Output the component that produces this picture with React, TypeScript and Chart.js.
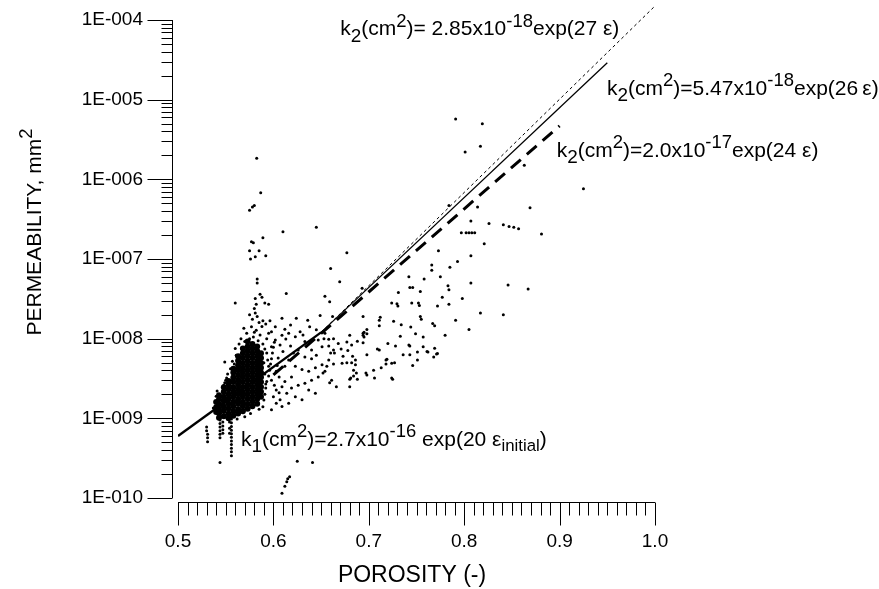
import React, { useEffect, useRef } from "react";
import { Chart, registerables } from "chart.js";

Chart.register(...registerables);

const FONT = "'Liberation Sans', Arial, Helvetica, sans-serif";

// ---------- axis ticks / labels ----------
const xTickValues = [0.5, 0.6, 0.7, 0.8, 0.9, 1.0];
const xTickLabels = ["0.5", "0.6", "0.7", "0.8", "0.9", "1.0"];
const yTickValues = [1e-10, 1e-9, 1e-8, 1e-7, 1e-6, 1e-5, 1e-4];
const yTickLabels = ["1E-010", "1E-009", "1E-008", "1E-007", "1E-006", "1E-005", "1E-004"];
const xAxisTitle = "POROSITY (-)";
const yAxisTitleParts: [string, string][] = [["PERMEABILITY, mm", "n"], ["2", "sup"]];

// ---------- fitted lines ----------
const k1Line: [number, number][] = [[0.5, 6.0e-10], [0.65, 1.2e-8]];
const k2SolidLine: [number, number][] = [[0.65, 1.2e-8], [0.95, 2.9e-5]];
const k2DottedLine: [number, number][] = [[0.65, 1.2e-8], [1.0, 1.5e-4]];
const k2DashedLine: [number, number][] = [[0.6, 3.5e-9], [0.9, 4.7e-6]];

// ---------- dense core of measurements ----------
const denseCore: [number, number[]][] = [
  [0.540, [1.2e-9, 1.38e-9, 1.6e-9]],
  [0.543, [1.02e-9, 1.16e-9, 1.31e-9, 1.5e-9, 1.74e-9, 1.95e-9]],
  [0.548, [1.06e-9, 1.24e-9, 1.41e-9, 1.64e-9, 1.86e-9, 2.15e-9, 2.45e-9]],
  [0.553, [1.0e-9, 1.14e-9, 1.33e-9, 1.52e-9, 1.76e-9, 2.0e-9, 2.31e-9, 2.64e-9, 2.95e-9]],
  [0.558, [1.08e-9, 1.23e-9, 1.42e-9, 1.62e-9, 1.88e-9, 2.15e-9, 2.46e-9, 2.86e-9, 3.26e-9, 3.76e-9, 4.2e-9]],
  [0.563, [1.15e-9, 1.31e-9, 1.53e-9, 1.74e-9, 2.0e-9, 2.3e-9, 2.66e-9, 3.04e-9, 3.5e-9, 4.02e-9, 4.6e-9, 5.3e-9, 6.0e-9]],
  [0.568, [1.23e-9, 1.42e-9, 1.62e-9, 1.88e-9, 2.14e-9, 2.47e-9, 2.86e-9, 3.27e-9, 3.76e-9, 4.3e-9, 4.94e-9, 5.7e-9, 6.55e-9, 7.5e-9]],
  [0.573, [1.32e-9, 1.51e-9, 1.75e-9, 2.01e-9, 2.3e-9, 2.64e-9, 3.05e-9, 3.5e-9, 4.01e-9, 4.6e-9, 5.3e-9, 6.1e-9, 7.0e-9, 8.0e-9, 9.2e-9]],
  [0.578, [1.42e-9, 1.63e-9, 1.87e-9, 2.15e-9, 2.47e-9, 2.85e-9, 3.27e-9, 3.75e-9, 4.3e-9, 4.95e-9, 5.7e-9, 6.55e-9, 7.5e-9, 8.6e-9]],
  [0.583, [1.52e-9, 1.75e-9, 2.0e-9, 2.3e-9, 2.65e-9, 3.05e-9, 3.5e-9, 4.0e-9, 4.6e-9, 5.3e-9, 6.1e-9, 7.0e-9, 8.0e-9]],
  [0.587, [1.87e-9, 2.15e-9, 2.47e-9, 2.85e-9, 3.27e-9, 3.75e-9, 4.3e-9, 4.95e-9, 5.7e-9, 6.55e-9]],
];

// ---------- points around the core ----------
const coreEdge: [number, number][] = [
  [0.539, 1.6e-9], [0.540, 1.9e-9], [0.541, 2.2e-9], [0.537, 1.35e-9], [0.548, 2.6e-9], [0.549, 2.8e-9],
  [0.550, 3.0e-9], [0.551, 3.2e-9], [0.549, 5.1e-9], [0.557, 5.2e-9], [0.552, 3.6e-9], [0.555, 4.2e-9],
  [0.559, 4.8e-9], [0.561, 6.2e-9], [0.560, 7.5e-9], [0.564, 8.6e-9], [0.566, 1.0e-8],
  [0.575, 2.0e-8], [0.581, 2.1e-8], [0.583, 1.9e-8], [0.589, 1.68e-8], [0.592, 1.53e-8], [0.577, 1.41e-8],
  [0.582, 1.28e-8], [0.572, 1.17e-8], [0.586, 1.11e-8], [0.575, 1.0e-8], [0.593, 1.0e-8], [0.570, 9.2e-9],
  [0.598, 1.22e-8], [0.579, 1.05e-8], [0.569, 1.35e-8], [0.588, 1.42e-8], [0.585, 1.6e-8], [0.578, 1.75e-8],
  [0.589, 1.4e-9], [0.590, 1.7e-9], [0.591, 2.0e-9], [0.592, 2.4e-9], [0.593, 2.9e-9], [0.595, 3.4e-9],
  [0.596, 4.0e-9], [0.597, 4.8e-9], [0.598, 5.6e-9], [0.599, 6.6e-9], [0.600, 7.8e-9], [0.601, 9.0e-9],
  [0.591, 3.6e-9], [0.590, 5.0e-9], [0.591, 7.4e-9], [0.589, 8.6e-9], [0.592, 2.7e-9], [0.594, 5.4e-9],
  [0.584, 9.4e-9], [0.580, 1.2e-8], [0.585, 1.3e-9], [0.576, 1.15e-9], [0.570, 1.05e-9], [0.562, 9.8e-10],
];

const nearCore: [number, number][] = [
  [0.5964, 1.68e-8], [0.602, 1.41e-8], [0.609, 1.8e-8], [0.612, 1.31e-8], [0.616, 1.17e-8], [0.618, 1.48e-8],
  [0.623, 1.06e-8], [0.628, 1.22e-8], [0.631, 1.11e-8], [0.633, 9.2e-9], [0.638, 1.41e-8], [0.640, 7.2e-9],
  [0.645, 1.29e-8], [0.647, 9.6e-9], [0.651, 7.9e-9], [0.654, 1.17e-8], [0.658, 9.8e-9], [0.663, 7.2e-9],
  [0.658, 5.4e-9], [0.651, 4.7e-9], [0.644, 4.3e-9], [0.637, 3.9e-9], [0.630, 4.1e-9], [0.623, 4.5e-9],
  [0.619, 3.3e-9], [0.612, 2.9e-9], [0.609, 2.5e-9], [0.603, 2.27e-9], [0.600, 1.87e-9], [0.607, 1.71e-9],
  [0.614, 2.06e-9], [0.619, 2.4e-9], [0.626, 2.6e-9], [0.633, 2.75e-9], [0.640, 3.0e-9], [0.647, 3.3e-9],
  [0.654, 3.9e-9], [0.661, 3.0e-9], [0.630, 1.71e-9], [0.623, 1.87e-9], [0.616, 1.55e-9], [0.609, 1.41e-9],
  [0.598, 3.0e-9], [0.595, 4.5e-9], [0.593, 6.6e-9], [0.598, 7.9e-9], [0.602, 9.6e-9], [0.595, 1.17e-8],
  [0.605, 5.7e-9], [0.610, 6.9e-9], [0.612, 4.5e-9], [0.603, 3.9e-9], [0.616, 5.4e-9], [0.621, 6.6e-9],
  [0.626, 7.2e-9], [0.633, 5.9e-9], [0.640, 5.6e-9], [0.645, 6.2e-9], [0.637, 2.27e-9], [0.644, 2.06e-9],
  [0.598, 1.28e-9], [0.603, 1.55e-9], [0.606, 3.3e-9], [0.604, 4.6e-9], [0.607, 8.3e-9], [0.613, 9.9e-9],
  [0.618, 8.1e-9], [0.609, 1.1e-8], [0.601, 2.6e-9], [0.606, 2.1e-9],
];

const lowTail: [number, number][] = [
  [0.544, 9.5e-10], [0.544, 8.6e-10], [0.544, 7.8e-10], [0.544, 7.0e-10], [0.544, 6.3e-10], [0.544, 5.7e-10],
  [0.547, 9.0e-10], [0.547, 8.0e-10], [0.547, 7.2e-10], [0.547, 6.5e-10],
  [0.556, 9.8e-10], [0.556, 8.8e-10], [0.556, 7.9e-10], [0.556, 7.1e-10], [0.556, 6.4e-10], [0.556, 5.8e-10],
  [0.556, 5.2e-10], [0.556, 4.7e-10], [0.556, 4.2e-10], [0.556, 3.8e-10], [0.556, 3.4e-10],
  [0.554, 9.0e-10], [0.554, 7.5e-10], [0.554, 6.5e-10],
  [0.530, 7.8e-10], [0.530, 7.0e-10], [0.531, 6.3e-10], [0.531, 5.7e-10], [0.531, 5.1e-10],
  [0.544, 2.8e-10], [0.625, 2.9e-10], [0.641, 2.8e-10],
  [0.609, 1.15e-10], [0.612, 1.4e-10], [0.614, 1.6e-10], [0.615, 1.75e-10], [0.617, 1.85e-10],
];

const upperScatter: [number, number][] = [
  [0.5825, 1.84e-6], [0.5867, 6.8e-7], [0.580, 4.7e-7], [0.578, 4.5e-7], [0.575, 4.1e-7], [0.610, 2.2e-7],
  [0.645, 2.5e-7], [0.589, 1.85e-7], [0.577, 1.65e-7], [0.579, 1.6e-7], [0.575, 1.27e-7], [0.585, 1.27e-7],
  [0.581, 1.07e-7], [0.592, 1.1e-7], [0.576, 1.0e-7], [0.583, 5.6e-8], [0.583, 5.0e-8], [0.6135, 3.7e-8],
  [0.560, 2.8e-8], [0.586, 3.6e-8], [0.581, 3.2e-8], [0.588, 3.3e-8], [0.582, 2.7e-8], [0.591, 2.8e-8],
  [0.595, 2.7e-8], [0.580, 2.4e-8], [0.677, 1.2e-7], [0.660, 7.6e-8], [0.6695, 5.2e-8], [0.654, 3.4e-8],
  [0.659, 2.9e-8], [0.649, 1.95e-8], [0.662, 1.9e-8], [0.636, 1.7e-8], [0.624, 1.8e-8], [0.694, 1.9e-8],
  [0.693, 4.3e-8],
];

const rightScatter: [number, number][] = [
  [0.791, 5.7e-6], [0.819, 5.0e-6], [0.801, 2.2e-6], [0.817, 2.6e-6], [0.863, 1.5e-6], [0.814, 4.5e-7],
  [0.784, 4.7e-7], [0.807, 3.0e-7], [0.826, 2.8e-7], [0.841, 2.7e-7], [0.847, 2.55e-7], [0.852, 2.5e-7],
  [0.857, 2.4e-7], [0.869, 4.4e-7], [0.881, 2.06e-7], [0.925, 7.6e-7], [0.797, 2.14e-7], [0.802, 2.14e-7],
  [0.805, 2.14e-7], [0.808, 2.14e-7], [0.811, 2.14e-7], [0.773, 1.27e-7], [0.821, 1.55e-7], [0.807, 1.1e-7],
  [0.793, 9.3e-8], [0.785, 7.9e-8], [0.766, 8.4e-8], [0.766, 7.2e-8], [0.775, 6.0e-8], [0.758, 5.6e-8],
  [0.742, 6.0e-8], [0.807, 5.0e-8], [0.846, 4.7e-8], [0.867, 4.2e-8], [0.743, 4.4e-8], [0.746, 4.4e-8],
  [0.783, 4.6e-8], [0.784, 4.1e-8], [0.731, 3.8e-8], [0.754, 3.9e-8], [0.798, 3.2e-8], [0.777, 3.3e-8],
  [0.724, 2.8e-8], [0.7295, 2.75e-8], [0.7305, 2.57e-8], [0.745, 2.8e-8], [0.752, 2.8e-8], [0.753, 2.6e-8],
  [0.772, 2.57e-8], [0.784, 2.7e-8], [0.817, 2.1e-8], [0.841, 2.0e-8],
];

const midScatter: [number, number][] = [
  [0.712, 1.86e-8], [0.711, 1.7e-8], [0.711, 1.45e-8], [0.726, 1.66e-8], [0.734, 1.5e-8], [0.754, 1.9e-8],
  [0.755, 1.75e-8], [0.767, 1.55e-8], [0.769, 1.45e-8], [0.791, 1.7e-8], [0.805, 1.3e-8], [0.780, 1.1e-8],
  [0.698, 1.3e-8], [0.698, 1.15e-8], [0.694, 1.17e-8], [0.695, 1.05e-8], [0.694, 8.9e-9], [0.680, 1.1e-8],
  [0.733, 1.07e-8], [0.743, 8.1e-9], [0.757, 7.9e-9], [0.751, 6.8e-9], [0.762, 6.8e-9], [0.771, 6.4e-9],
  [0.769, 7.6e-9], [0.768, 5.9e-9], [0.720, 8.7e-9], [0.728, 8.1e-9], [0.709, 7.4e-9], [0.736, 6.3e-9],
  [0.743, 6.3e-9], [0.718, 5.4e-9], [0.724, 4.9e-9], [0.746, 4.6e-9], [0.698, 6.3e-9], [0.705, 4.0e-9],
  [0.713, 4.3e-9], [0.686, 5.4e-9], [0.686, 4.7e-9], [0.682, 5.0e-9], [0.724, 3.2e-9], [0.698, 3.5e-9],
  [0.706, 3.2e-9], [0.680, 3.1e-9], [0.659, 2.8e-9], [0.666, 2.5e-9], [0.680, 2.5e-9], [0.681, 3.2e-9],
  [0.688, 3.1e-9], [0.684, 3.4e-9], [0.687, 3.7e-9], [0.697, 3.7e-9], [0.718, 4.8e-9], [0.725, 3.1e-9],
  [0.751, 5.4e-9], [0.727, 5.0e-9], [0.719, 5.5e-9], [0.772, 6.5e-9], [0.742, 8.3e-9], [0.761, 6.9e-9],
  [0.757, 1.05e-8], [0.749, 1.15e-8], [0.744, 1.4e-8], [0.711, 7.2e-9], [0.653, 1.0e-8], [0.658, 8.1e-9],
  [0.663, 1.0e-8], [0.668, 8.7e-9], [0.664, 6.6e-9], [0.660, 6.6e-9], [0.671, 7.4e-9], [0.673, 6.0e-9],
  [0.677, 9.1e-9], [0.682, 8.3e-9], [0.678, 7.1e-9], [0.683, 6.0e-9], [0.677, 5.0e-9], [0.672, 4.9e-9],
  [0.663, 4.8e-9], [0.656, 4.5e-9], [0.652, 3.7e-9], [0.684, 4.0e-9], [0.688, 9.3e-9], [0.695, 1.2e-8],
  [0.694, 1.1e-8],
];

// ---------- equation labels (anchored at data coordinates) ----------
type Part = [string, string];
const equationLabels: { x: number; y: number; parts: Part[] }[] = [
  { x: 0.67, y: 6.4e-5, parts: [["k", "n"], ["2", "sub"], ["(cm", "n"], ["2", "sup"], [")= 2.85x10", "n"], ["-18", "sup"], ["exp(27 \u03b5)", "n"]] },
  { x: 0.9497, y: 1.15e-5, parts: [["k", "n"], ["2", "sub"], ["(cm", "n"], ["2", "sup"], [")=5.47x10", "n"], ["-18", "sup"], ["exp(26\u2009\u03b5)", "n"]] },
  { x: 0.897, y: 1.9e-6, parts: [["k", "n"], ["2", "sub"], ["(cm", "n"], ["2", "sup"], [")=2.0x10", "n"], ["-17", "sup"], ["exp(24 \u03b5)", "n"]] },
  { x: 0.566, y: 4.5e-10, parts: [["k", "n"], ["1", "sub"], ["(cm", "n"], ["2", "sup"], [")=2.7x10", "n"], ["-16", "sup"], [" exp(20 \u03b5", "n"], ["initial", "sub2"], [")", "n"]] },
];

function partStyle(mode: string, size: number) {
  if (mode === "sub") return { fs: size * 0.9, dy: size * 0.3 };
  if (mode === "sup") return { fs: size * 0.88, dy: -size * 0.42 };
  if (mode === "sub2") return { fs: size * 0.8, dy: size * 0.22 };
  return { fs: size, dy: 0 };
}

function drawRich(ctx: CanvasRenderingContext2D, x: number, y: number, parts: Part[], size: number) {
  let cx = x;
  for (const [t, mode] of parts) {
    const { fs, dy } = partStyle(mode, size);
    ctx.font = `${fs}px ${FONT}`;
    ctx.fillText(t, cx, y + dy);
    cx += ctx.measureText(t).width;
  }
  return cx - x;
}

function measureRich(ctx: CanvasRenderingContext2D, parts: Part[], size: number) {
  let w = 0;
  for (const [t, mode] of parts) {
    const { fs } = partStyle(mode, size);
    ctx.font = `${fs}px ${FONT}`;
    w += ctx.measureText(t).width;
  }
  return w;
}

const axesPlugin = {
  id: "detachedAxes",
  afterDraw(chart: any) {
    const { ctx, chartArea, scales } = chart;
    const xs = scales.x;
    const ys = scales.y;
    ctx.save();
    ctx.strokeStyle = "#000";
    ctx.fillStyle = "#000";
    ctx.lineWidth = 1;

    // y axis
    const ax = Math.round(chartArea.left - 6) + 0.5;
    const yTop = ys.getPixelForValue(yTickValues[yTickValues.length - 1]);
    const yBot = ys.getPixelForValue(yTickValues[0]);
    ctx.beginPath();
    ctx.moveTo(ax, yTop);
    ctx.lineTo(ax, yBot);
    ys.ticks.forEach((t: any) => {
      const p = Math.round(ys.getPixelForValue(t.value)) + 0.5;
      const major = t.label !== "" && t.label != null;
      ctx.moveTo(ax - (major ? 25 : 11), p);
      ctx.lineTo(ax, p);
    });
    ctx.stroke();

    // x axis
    const ay = Math.round(chartArea.bottom + 4) + 0.5;
    ctx.beginPath();
    ctx.moveTo(xs.getPixelForValue(xTickValues[0]), ay);
    ctx.lineTo(xs.getPixelForValue(xTickValues[xTickValues.length - 1]), ay);
    xs.ticks.forEach((t: any) => {
      const p = Math.round(xs.getPixelForValue(t.value)) + 0.5;
      const major = t.label !== "" && t.label != null;
      ctx.moveTo(p, ay);
      ctx.lineTo(p, ay + (major ? 23 : 13));
    });
    ctx.stroke();

    // axis titles
    ctx.textAlign = "center";
    ctx.textBaseline = "middle";
    ctx.font = `23px ${FONT}`;
    ctx.fillText(xAxisTitle, 412, 576);

    ctx.save();
    ctx.translate(33, 232);
    ctx.rotate(-Math.PI / 2);
    ctx.textAlign = "left";
    ctx.textBaseline = "alphabetic";
    const tw = measureRich(ctx, yAxisTitleParts, 21);
    drawRich(ctx, -tw / 2, 8, yAxisTitleParts, 21);
    ctx.restore();

    // equation labels
    ctx.textAlign = "left";
    ctx.textBaseline = "alphabetic";
    equationLabels.forEach((lab) => {
      const px = xs.getPixelForValue(lab.x);
      const py = ys.getPixelForValue(lab.y);
      drawRich(ctx, px, py, lab.parts, 21);
    });
    ctx.restore();
  },
};

const toXY = (arr: [number, number][]) => arr.map(([x, y]) => ({ x, y }));

export default function App() {
  const ref = useRef<HTMLCanvasElement | null>(null);

  useEffect(() => {
    if (!ref.current) return;
    Chart.defaults.font.family = FONT;
    Chart.defaults.color = "#000";

    const coreData: { x: number; y: number }[] = [];
    denseCore.forEach(([x, ys]) => ys.forEach((y) => coreData.push({ x, y })));

    const pointStyle = (data: any[], r: number) => ({
      data,
      showLine: false,
      pointRadius: r,
      pointHoverRadius: r,
      pointBackgroundColor: "#000",
      pointBorderWidth: 0,
      borderColor: "#000",
    });

    const chart = new Chart(ref.current, {
      type: "scatter",
      data: {
        datasets: [
          { data: toXY(k1Line), showLine: true, pointRadius: 0, borderColor: "#000", borderWidth: 2.4 } as any,
          { data: toXY(k2SolidLine), showLine: true, pointRadius: 0, borderColor: "#000", borderWidth: 1.3 } as any,
          { data: toXY(k2DottedLine), showLine: true, pointRadius: 0, borderColor: "#000", borderWidth: 1, borderDash: [3, 3], clip: false } as any,
          { data: toXY(k2DashedLine), showLine: true, pointRadius: 0, borderColor: "#000", borderWidth: 3, borderDash: [13, 8] } as any,
          pointStyle(coreData, 3.0) as any,
          pointStyle(toXY(coreEdge), 1.5) as any,
          pointStyle(toXY(nearCore), 1.5) as any,
          pointStyle(toXY(lowTail), 1.5) as any,
          pointStyle(toXY(upperScatter), 1.5) as any,
          pointStyle(toXY(rightScatter), 1.5) as any,
          pointStyle(toXY(midScatter), 1.5) as any,
        ],
      },
      options: {
        animation: false,
        responsive: true,
        maintainAspectRatio: false,
        layout: { padding: { left: 0, top: 20, right: 224, bottom: 0 } },
        plugins: { legend: { display: false }, tooltip: { enabled: false } },
        scales: {
          x: {
            type: "linear",
            min: xTickValues[0],
            max: xTickValues[xTickValues.length - 1],
            grid: { display: false, drawTicks: false },
            border: { display: false },
            afterBuildTicks: (s: any) => {
              const t: { value: number }[] = [];
              for (let i = 0; i <= 50; i++) t.push({ value: Math.round((0.5 + i * 0.01) * 100) / 100 });
              s.ticks = t;
            },
            afterFit: (s: any) => {
              s.height = 91;
              s.paddingLeft = 0;
              s.paddingRight = 0;
            },
            ticks: {
              autoSkip: false,
              maxRotation: 0,
              padding: 32,
              font: { size: 19, family: FONT },
              callback: (v: any) => {
                const i = xTickValues.findIndex((t) => Math.abs(t - Number(v)) < 1e-6);
                return i >= 0 ? xTickLabels[i] : "";
              },
            },
          },
          y: {
            type: "logarithmic",
            min: yTickValues[0],
            max: yTickValues[yTickValues.length - 1],
            grid: { display: false, drawTicks: false },
            border: { display: false },
            afterBuildTicks: (s: any) => {
              const t: { value: number }[] = [];
              for (let e = -10; e < -4; e++) {
                for (let m = 1; m <= 9; m++) t.push({ value: m * Math.pow(10, e) });
              }
              t.push({ value: 1e-4 });
              s.ticks = t;
            },
            afterFit: (s: any) => {
              s.width = 178;
              s.paddingTop = 0;
              s.paddingBottom = 0;
            },
            ticks: {
              autoSkip: false,
              padding: 35,
              font: { size: 19, family: FONT },
              callback: (v: any) => {
                const i = yTickValues.findIndex((t) => Math.abs(Number(v) / t - 1) < 1e-6);
                return i >= 0 ? yTickLabels[i] : "";
              },
            },
          },
        },
      },
      plugins: [axesPlugin],
    });
    return () => chart.destroy();
  }, []);

  return (
    <div style={{ position: "absolute", left: 0, top: 0, width: 879, height: 589, background: "#fff" }}>
      <canvas ref={ref} />
    </div>
  );
}
